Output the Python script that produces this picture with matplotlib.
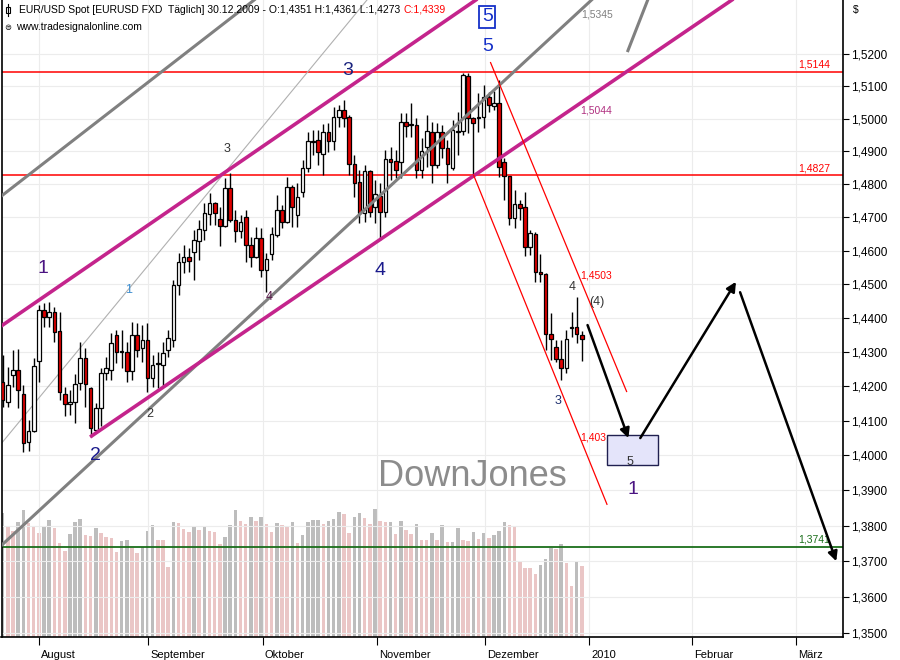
import numpy as np
import matplotlib
matplotlib.use("Agg")
import matplotlib.pyplot as plt
from matplotlib.ticker import FixedLocator, NullLocator, FuncFormatter
from matplotlib.patches import Rectangle
from matplotlib.lines import Line2D
from matplotlib.transforms import ScaledTranslation

plt.rcParams['font.family'] = ['Liberation Sans', 'DejaVu Sans']

# daily EUR/USD bars, bar index 0 .. 112 (last bar = 30.12.2009)
opens = [1.4213, 1.4154, 1.4233, 1.4248, 1.4178, 1.4039, 1.4071, 1.4274, 1.4424, 1.4403,
         1.4418, 1.4362, 1.4178, 1.4149, 1.4154, 1.4210, 1.4283, 1.4195, 1.4073, 1.4137,
         1.4239, 1.4248, 1.4350, 1.4300, 1.4300, 1.4245, 1.4350, 1.4312, 1.4335, 1.4224,
         1.4265, 1.4262, 1.4306, 1.4335, 1.4498, 1.4566, 1.4581, 1.4596, 1.4629, 1.4662,
         1.4710, 1.4743, 1.4695, 1.4674, 1.4789, 1.4692, 1.4659, 1.4701, 1.4617, 1.4581,
         1.4638, 1.4542, 1.4590, 1.4647, 1.4722, 1.4686, 1.4792, 1.4707, 1.4776, 1.4849,
         1.4929, 1.4935, 1.4892, 1.4959, 1.4932, 1.5005, 1.5027, 1.5005, 1.4861, 1.4807,
         1.4713, 1.4840, 1.4731, 1.4764, 1.4716, 1.4877, 1.4871, 1.4868, 1.4990, 1.4981,
         1.4981, 1.4843, 1.4914, 1.4959, 1.4858, 1.4959, 1.4910, 1.4849, 1.4959, 1.4962,
         1.5132, 1.5002, 1.5002, 1.5005, 1.5067, 1.5039, 1.5048, 1.4868, 1.4825, 1.4698,
         1.4740, 1.4731, 1.4611, 1.4650, 1.4536, 1.4530, 1.4353, 1.4315, 1.4280, 1.4253,
         1.4371, 1.4374, 1.4351]
highs = [1.4291, 1.4256, 1.4306, 1.4309, 1.4204, 1.4102, 1.4283, 1.4438, 1.4444, 1.4447,
         1.4433, 1.4418, 1.4198, 1.4189, 1.4236, 1.4329, 1.4312, 1.4198, 1.4152, 1.4253,
         1.4285, 1.4356, 1.4365, 1.4365, 1.4329, 1.4388, 1.4385, 1.4379, 1.4385, 1.4291,
         1.4300, 1.4329, 1.4365, 1.4513, 1.4593, 1.4617, 1.4608, 1.4662, 1.4692, 1.4743,
         1.4773, 1.4746, 1.4731, 1.4819, 1.4834, 1.4722, 1.4707, 1.4722, 1.4641, 1.4671,
         1.4668, 1.4593, 1.4671, 1.4767, 1.4737, 1.4822, 1.4798, 1.4804, 1.4874, 1.4959,
         1.4965, 1.4965, 1.4984, 1.4987, 1.5036, 1.5042, 1.5058, 1.5011, 1.4889, 1.4843,
         1.4858, 1.4843, 1.4813, 1.4804, 1.4904, 1.4913, 1.4904, 1.5017, 1.5017, 1.5048,
         1.5002, 1.4941, 1.5011, 1.4990, 1.4987, 1.4981, 1.4935, 1.4996, 1.5021, 1.5141,
         1.5141, 1.5005, 1.5079, 1.5104, 1.5082, 1.5085, 1.5119, 1.4880, 1.4825, 1.4782,
         1.4752, 1.4776, 1.4662, 1.4656, 1.4590, 1.4533, 1.4415, 1.4335, 1.4335, 1.4365,
         1.4418, 1.4462, 1.4361]
lows = [1.4140, 1.4140, 1.4198, 1.4137, 1.4010, 1.4013, 1.4068, 1.4213, 1.4374, 1.4374,
        1.4329, 1.4160, 1.4114, 1.4117, 1.4094, 1.4189, 1.4140, 1.4053, 1.4068, 1.4085,
        1.4218, 1.4218, 1.4268, 1.4253, 1.4213, 1.4218, 1.4285, 1.4271, 1.4183, 1.4198,
        1.4195, 1.4198, 1.4285, 1.4315, 1.4468, 1.4533, 1.4536, 1.4513, 1.4572, 1.4632,
        1.4677, 1.4677, 1.4614, 1.4671, 1.4686, 1.4626, 1.4638, 1.4566, 1.4551, 1.4578,
        1.4521, 1.4477, 1.4572, 1.4641, 1.4668, 1.4683, 1.4671, 1.4671, 1.4761, 1.4837,
        1.4889, 1.4858, 1.4828, 1.4898, 1.4904, 1.4975, 1.4975, 1.4828, 1.4761, 1.4683,
        1.4686, 1.4701, 1.4683, 1.4632, 1.4701, 1.4813, 1.4819, 1.4819, 1.4944, 1.4944,
        1.4819, 1.4819, 1.4852, 1.4804, 1.4849, 1.4880, 1.4804, 1.4843, 1.4889, 1.4950,
        1.4956, 1.4822, 1.4959, 1.4972, 1.5021, 1.5027, 1.4822, 1.4752, 1.4677, 1.4668,
        1.4692, 1.4584, 1.4587, 1.4507, 1.4507, 1.4306, 1.4277, 1.4271, 1.4218, 1.4239,
        1.4344, 1.4326, 1.4273]
closes = [1.4160, 1.4204, 1.4248, 1.4189, 1.4036, 1.4071, 1.4259, 1.4424, 1.4403, 1.4418,
          1.4359, 1.4183, 1.4149, 1.4155, 1.4207, 1.4283, 1.4207, 1.4079, 1.4137, 1.4239,
          1.4253, 1.4326, 1.4300, 1.4302, 1.4245, 1.4350, 1.4306, 1.4335, 1.4224, 1.4262,
          1.4268, 1.4297, 1.4341, 1.4498, 1.4566, 1.4581, 1.4569, 1.4632, 1.4665, 1.4713,
          1.4743, 1.4713, 1.4674, 1.4789, 1.4692, 1.4659, 1.4686, 1.4617, 1.4581, 1.4638,
          1.4542, 1.4575, 1.4650, 1.4722, 1.4686, 1.4792, 1.4731, 1.4761, 1.4849, 1.4932,
          1.4932, 1.4898, 1.4959, 1.4932, 1.5005, 1.5027, 1.5002, 1.4861, 1.4804, 1.4713,
          1.4840, 1.4716, 1.4770, 1.4716, 1.4877, 1.4868, 1.4843, 1.4990, 1.4978, 1.4984,
          1.4843, 1.4901, 1.4962, 1.4858, 1.4959, 1.4910, 1.4861, 1.4965, 1.4962, 1.5135,
          1.5002, 1.4987, 1.5005, 1.5067, 1.5042, 1.5048, 1.4852, 1.4825, 1.4698, 1.4740,
          1.4728, 1.4611, 1.4653, 1.4536, 1.4530, 1.4353, 1.4338, 1.4280, 1.4253, 1.4338,
          1.4374, 1.4353, 1.4339]
volume = [370, 330, 315, 342, 378, 340, 330, 310, 330, 348, 324, 280, 258, 307, 342, 351,
          303, 300, 324, 309, 297, 294, 255, 285, 290, 265, 252, 267, 315, 333, 290, 289,
          210, 342, 341, 321, 312, 330, 318, 330, 315, 312, 276, 297, 333, 378, 346, 336,
          357, 345, 357, 336, 312, 339, 333, 327, 342, 279, 303, 342, 348, 349, 336, 345,
          351, 372, 366, 309, 357, 369, 354, 336, 381, 345, 342, 343, 306, 345, 318, 306,
          336, 290, 289, 309, 290, 333, 282, 284, 324, 288, 285, 312, 291, 309, 294, 303,
          315, 342, 333, 327, 228, 207, 205, 189, 216, 234, 264, 261, 276, 222, 153, 225, 213]

month_pos = [7.0, 28.1, 50.3, 72.4, 93.3, 113.4, 133.3, 153.4]
month_names = ['August', 'September', 'Oktober', 'November', 'Dezember', '2010', 'Februar', 'März']
price_ticks = [1.35, 1.36, 1.37, 1.38, 1.39, 1.40, 1.41, 1.42, 1.43, 1.44, 1.45,
               1.46, 1.47, 1.48, 1.49, 1.50, 1.51, 1.52]

# horizontal levels
level_top = 1.5144
level_mid = 1.4827
level_low = 1.3741

# trend lines (bar index, price)
magenta_upper = [(-2.5, 1.4353), (92.3, 1.5378)]
magenta_lower = [(16.9, 1.4053), (142.0, 1.5380)]
gray_lower = [(-0.5, 1.3741), (114.6, 1.5380)]
gray_upper = [(-0.5, 1.4761), (49.5, 1.5380)]
gray_thin = [(-0.5, 1.4030), (71.0, 1.5380)]
gray_right = [(120.8, 1.5206), (125.0, 1.5380)]
red_upper = [(94.3, 1.5175), (120.7, 1.4183)]
red_lower = [(91.0, 1.4830), (116.9, 1.3859)]

# projected path
path_legs = [[(113.1, 1.4379), (121.0, 1.4050)],
             [(123.3, 1.4050), (141.8, 1.4507)],
             [(142.6, 1.4476), (161.2, 1.3700)]]
target_box = [(116.9, 1.3973), (126.7, 1.4059)]

big_waves = [('1', 7.8, 1.4548), ('2', 17.9, 1.4001), ('3', 66.8, 1.5150),
             ('4', 73.0, 1.4542), ('5', 93.7, 1.5222), ('1', 121.9, 1.3904)]
big_colors = ['#4b1482', '#1a1a8c', '#1a237e', '#1a1a8c', '#1530c8', '#4b1482']
small_waves = [('1', 24.4, 1.4483), ('2', 28.5, 1.4120), ('3', 43.4, 1.4907),
               ('4', 51.5, 1.4462), ('3', 107.4, 1.4158), ('4', 110.1, 1.4492),
               ('(4)', 115.0, 1.4447), ('5', 121.3, 1.3981)]
small_colors = ['#3a8ccf', '#333333', '#333333', '#5a1a4a', '#1e2f6e', '#333333',
                '#333333', '#333333']

fig = plt.figure(figsize=(9, 6.6), dpi=100)
rect = [1.5 / 900, 23 / 660, 841.5 / 900, 637 / 660]
ax = fig.add_axes(rect)
ax_v = ax.twinx()
ax.set_zorder(ax_v.get_zorder() + 1)
ax.patch.set_visible(False)
ax_v.patch.set_facecolor('white')

x = np.arange(len(opens))

# volume
vol = np.array(volume)
vol_up = np.r_[True, np.diff(vol) > 0]
ax_v.bar(x, vol, width=0.68, color=np.where(vol_up, '#bdbdbd', '#eac6c6'), linewidth=0)
ax_v.set_ylim(0, 1900)
ax_v.yaxis.set_visible(False)
for s in ax_v.spines.values():
    s.set_visible(False)

# price axis
ax.set_yscale('log')
ax.set_ylim(1.3489, 1.5369)
ax.set_xlim(-0.23, 162.5)
ax.yaxis.tick_right()
ax.yaxis.set_major_locator(FixedLocator(price_ticks))
ax.yaxis.set_minor_locator(NullLocator())
ax.yaxis.set_major_formatter(FuncFormatter(lambda v, _: f'{v:.4f}'.replace('.', ',')))
ax.tick_params(axis='y', which='major', direction='out', length=4, pad=1.5,
               labelsize=8.5, colors='black')
ax.set_xticks(month_pos)
ax.set_xticklabels(month_names)
ax.tick_params(axis='x', direction='out', length=6, pad=3, labelsize=8)
for lab in ax.get_xticklabels():
    lab.set_horizontalalignment('left')
    lab.set_transform(lab.get_transform() + ScaledTranslation(2 / 100, 0, fig.dpi_scale_trans))
ax.grid(True, color='#ececec', lw=0.8, zorder=0)
ax.set_axisbelow(True)
ax.spines['top'].set_visible(False)
for s in ['left', 'right', 'bottom']:
    ax.spines[s].set_color('black')
    ax.spines[s].set_linewidth(1.2)

# candles
o = np.array(opens)
c = np.array(closes)
up = c >= o
ax.vlines(x, lows, highs, color='black', lw=1, zorder=3)
ax.bar(x, np.maximum(np.abs(c - o), 0.0003), bottom=np.minimum(o, c), width=0.7,
       color=np.where(up, 'white', '#e00000'), edgecolor='black', linewidth=0.9, zorder=4)

# levels
ax.axhline(level_top, color='#ff0000', lw=1.1, zorder=2)
ax.axhline(level_mid, color='#ff0000', lw=1.1, zorder=2)
ax.axhline(level_low, color='#1a6e1a', lw=1.3, zorder=2)
for val, col in [(level_top, '#ff0000'), (level_mid, '#ff0000'), (level_low, '#1a6e1a')]:
    ax.annotate(f'{val:.4f}'.replace('.', ','), xy=(153.8, val), xytext=(0, 1.5),
                textcoords='offset points', va='bottom', ha='left', color=col, fontsize=7.5)


def draw(pts, **kw):
    ax.plot([p[0] for p in pts], [p[1] for p in pts], solid_capstyle='butt', **kw)


draw(gray_thin, color='#b0b0b0', lw=0.8, zorder=2)
draw(gray_upper, color='#808080', lw=2.2, zorder=5)
draw(gray_lower, color='#808080', lw=2.2, zorder=5)
draw(gray_right, color='#808080', lw=2.2, zorder=5)
draw(magenta_upper, color='#c4248c', lw=2.6, zorder=5)
draw(magenta_lower, color='#c4248c', lw=2.6, zorder=5)
draw(red_upper, color='#ff0000', lw=0.9, zorder=5)
draw(red_lower, color='#ff0000', lw=0.9, zorder=5)

# projection
(bx0, by0), (bx1, by1) = target_box
ax.add_patch(Rectangle((bx0, by0), bx1 - bx0, by1 - by0, facecolor='#e4e4fa',
                       edgecolor='#202050', lw=1, zorder=5))
for start, end in path_legs:
    ax.annotate('', xy=end, xytext=start,
                arrowprops=dict(arrowstyle='-|>', color='black', lw=1.8,
                                mutation_scale=14, shrinkA=0, shrinkB=0), zorder=6)

# value labels
ax.text(111.9, 1.5322, '1,5345', color='#808080', fontsize=7.5, va='center', ha='left')
ax.text(111.7, 1.5024, '1,5044', color='#b03080', fontsize=7.5, va='center', ha='left')
ax.text(111.7, 1.4527, '1,4503', color='#ff0000', fontsize=7.5, va='center', ha='left')
ax.text(111.7, 1.4053, '1,403', color='#ff0000', fontsize=7.5, va='center', ha='left')

# wave labels
for (t, xi, yi), col in zip(big_waves, big_colors):
    ax.text(xi, yi, t, color=col, fontsize=14, ha='center', va='center', zorder=7)
ax.text(93.7, 1.5316, '5', color='#1530c8', fontsize=14, ha='center', va='center', zorder=7,
        bbox=dict(boxstyle='square,pad=0.12', fc='white', ec='#1530c8', lw=1.3))
for (t, xi, yi), col in zip(small_waves, small_colors):
    ax.text(xi, yi, t, color=col, fontsize=9, ha='center', va='center', zorder=7)

ax.text(90.8, 1.3941, 'DownJones', color='#8c8c8c', fontsize=26, ha='center', va='center', zorder=7)

# header
hdr = fig.text(19 / 900, 1 - 10 / 660,
               'EUR/USD Spot [EURUSD FXD  Täglich] 30.12.2009 - O:1,4351 H:1,4361 L:1,4273 ',
               fontsize=7.5, va='center', ha='left')
ax.annotate('C:1,4339', xy=(1, 0.5), xycoords=hdr, va='center', ha='left', color='red',
            fontsize=7.5, annotation_clip=False)
fig.add_artist(Rectangle((6 / 900, 1 - 13 / 660), 4 / 900, 6 / 660, transform=fig.transFigure,
                         fill=False, lw=0.8, edgecolor='black'))
fig.add_artist(Line2D([8 / 900, 8 / 900], [1 - 16 / 660, 1 - 4 / 660], transform=fig.transFigure,
                      lw=0.8, color='black'))
fig.text(8 / 900, 1 - 27 / 660, '⊜', fontsize=6, va='center', ha='center',
         family=['DejaVu Sans'])
fig.text(16 / 900, 1 - 27 / 660, 'www.tradesignalonline.com', fontsize=7.5, va='center', ha='left')
fig.text(853 / 900, 1 - 10 / 660, '$', fontsize=7.5, va='center', ha='left')

fig.savefig('out.png', dpi=100)
